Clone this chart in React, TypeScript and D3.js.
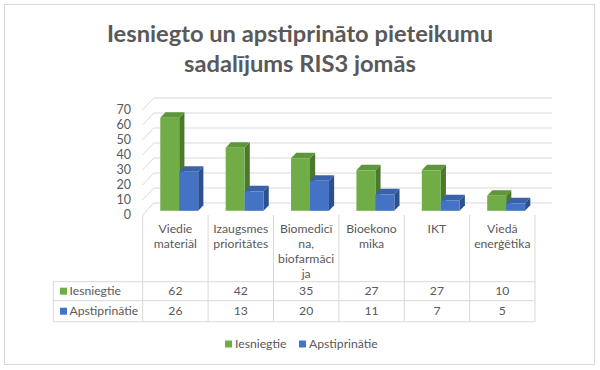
import * as d3 from 'd3'
import React from 'react'

const categories = ['Viedie materiāl', 'Izaugsmes prioritātes', 'Biomedicīna, biofarmācija', 'Bioekonomika', 'IKT', 'Viedā enerģētika']
const categoryLines = [['Viedie', 'materiāl'], ['Izaugsmes', 'prioritātes'], ['Biomedicī', 'na,', 'biofarmāci', 'ja'], ['Bioekono', 'mika'], ['IKT'], ['Viedā', 'enerģētika']]
const seriesNames = ['Iesniegtie', 'Apstiprinātie']
const iesniegtie = [62, 42, 35, 27, 27, 10]
const apstiprinatie = [26, 13, 20, 11, 7, 5]
const yTicks = [0, 10, 20, 30, 40, 50, 60, 70]

const W = 600, H = 370
const font = 'Lato, Calibri, sans-serif'
const txt = '#595959'
const grid = '#d9d9d9'
// front face, top, side
const palette = [
  ['#70ad47', '#5e9639', '#4b782d'],
  ['#4472c4', '#3a62a9', '#2c4f8e'],
]

// 3d depth offsets
const DX = 11, DY = -12, D0 = 0.35, D1 = 0.82

export default function App() {
  const
    x = d3.scaleBand<string>().domain(categories).range([142.7, 535]),
    y = d3.scaleLinear().domain([0, 70]).range([215, 110]),
    bw = x.bandwidth(),
    barW = bw * 0.29,
    series = [iesniegtie, apstiprinatie],
    p = (px: number, py: number, d: number) => `${px + DX * d},${py + DY * d}`,
    tableL = 53.3, tableR = 535,
    rowTop = 215, row1 = 281.7, row2 = 300.7, row3 = 321.7,
    fs = 12.2

  return (
    <svg width={W} height={H} style={{ position: 'absolute', left: 0, top: 0 }} fontFamily={font}>
      <rect x={0} y={0} width={W} height={H} fill='#fff' />
      <rect x={4.5} y={4.5} width={590} height={360} fill='#fff' stroke='#d9d9d9' />

      <text x={300} y={42} textAnchor='middle' fontSize={23.7} fontWeight='bold' fill={txt}>Iesniegto un apstiprināto pieteikumu</text>
      <text x={300} y={72} textAnchor='middle' fontSize={23.7} fontWeight='bold' fill={txt}>sadalījums RIS3 jomās</text>

      {/* walls */}
      {yTicks.map(t => (
        <g key={t}>
          <line x1={142.7} y1={y(t)} x2={142.7 + DX} y2={y(t) + DY} stroke={grid} />
          <line x1={142.7 + DX} y1={y(t) + DY} x2={tableR + DX + 6} y2={y(t) + DY} stroke={grid} />
          <text x={131} y={y(t)} dy='0.35em' textAnchor='end' fontSize={12.5} fill={txt}>{t}</text>
        </g>
      ))}

      {/* bars */}
      {categories.map((c, i) => {
        const x0 = x(c)! + bw / 2 - barW
        return (
          <g key={c}>
            {series.map((s, k) => {
              const xl = x0 + k * barW, xr = xl + barW, yt = y(s[i]), yb = y(0), col = palette[k]
              return (
                <g key={k}>
                  <polygon points={[p(xr, yb, D0), p(xr, yb, D1), p(xr, yt, D1), p(xr, yt, D0)].join(' ')} fill={col[2]} />
                  <polygon points={[p(xl, yt, D0), p(xr, yt, D0), p(xr, yt, D1), p(xl, yt, D1)].join(' ')} fill={col[1]} />
                  <polygon points={[p(xl, yb, D0), p(xr, yb, D0), p(xr, yt, D0), p(xl, yt, D0)].join(' ')} fill={col[0]} />
                </g>
              )
            })}
          </g>
        )
      })}

      {/* data table */}
      <g stroke={grid} fill='none'>
        {categories.map(c => <line key={c} x1={x(c)} y1={rowTop} x2={x(c)} y2={row3} />)}
        <line x1={tableR} y1={rowTop} x2={tableR} y2={row3} />
        <line x1={tableL} y1={row1} x2={tableL} y2={row3} />
        {[row1, row2, row3].map(r => <line key={r} x1={tableL} y1={r} x2={tableR} y2={r} />)}
      </g>
      {categories.map((c, i) => (
        <text key={c} x={x(c)! + bw / 2} y={228.5} textAnchor='middle' fontSize={fs} fill={txt}>
          {categoryLines[i].map((l, j) => <tspan key={j} x={x(c)! + bw / 2} dy={j === 0 ? '0.35em' : 15}>{l}</tspan>)}
        </text>
      ))}
      {series.map((s, k) => {
        const cy = k === 0 ? (row1 + row2) / 2 : (row2 + row3) / 2
        return (
          <g key={k}>
            <rect x={60} y={cy - 3.5} width={7} height={7} fill={palette[k][0]} />
            <text x={69.5} y={cy} dy='0.35em' fontSize={fs} fill={txt}>{seriesNames[k]}</text>
            {s.map((v, i) => (
              <text key={i} x={x(categories[i])! + bw / 2} y={cy} dy='0.35em' textAnchor='middle' fontSize={fs} fill={txt}>{v}</text>
            ))}
          </g>
        )
      })}

      {/* legend */}
      <g>
        <rect x={225} y={340.5} width={7} height={7} fill={palette[0][0]} />
        <text x={235} y={344} dy='0.35em' fontSize={fs} fill={txt}>{seriesNames[0]}</text>
        <rect x={299} y={340.5} width={7} height={7} fill={palette[1][0]} />
        <text x={309} y={344} dy='0.35em' fontSize={fs} fill={txt}>{seriesNames[1]}</text>
      </g>
    </svg>
  )
}
